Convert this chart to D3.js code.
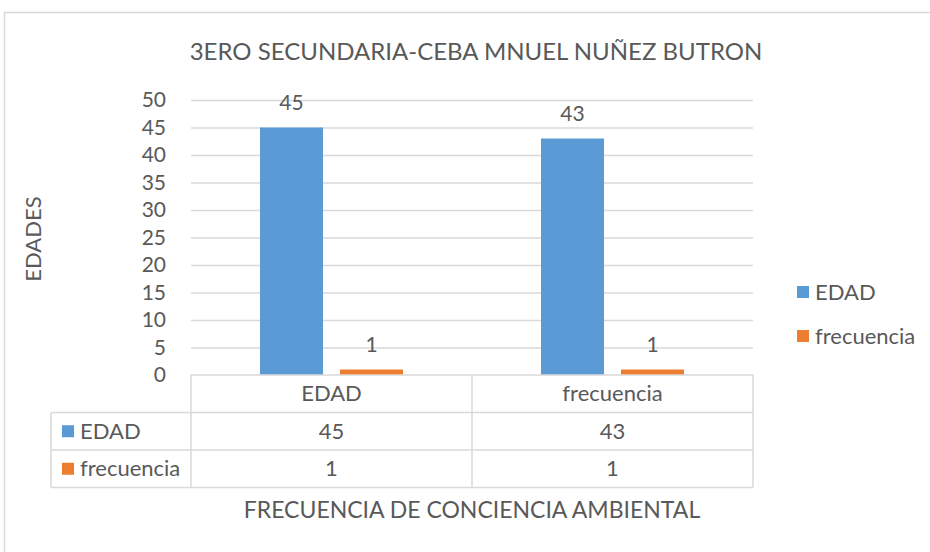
<!DOCTYPE html>
<meta charset="utf-8">
<script src="https://d3js.org/d3.v7.min.js"></script>
<style>
body { margin: 0; background: #fff; }
text { font-family: Lato, "Noto Sans", sans-serif; fill: #595959; }
.grid line { stroke: #d9d9d9; stroke-width: 1.5px; }
.grid path { display: none; }
.tbl line { stroke: #d9d9d9; stroke-width: 1.5px; }
</style>
<body>
<script>

// chart data
var categories = ["EDAD", "frecuencia"];
var seriesNames = ["EDAD", "frecuencia"];
var edadValues = [45, 43];
var frecuenciaValues = [1, 1];
var yTicks = [0, 5, 10, 15, 20, 25, 30, 35, 40, 45, 50];
var colors = ["#5b9bd5", "#ed7d31"];

var series = [edadValues, frecuenciaValues];

var width = 930,
    height = 552;

var plot = {left: 191, right: 753, top: 100, bottom: 375};
var fs = "22px";

var svg = d3.select("body").append("svg")
    .attr("width", width)
    .attr("height", height);

// outer chart border
svg.append("rect")
    .attr("x", 4.5).attr("y", 12.5)
    .attr("width", 940).attr("height", 560)
    .attr("fill", "none")
    .attr("stroke", "#d9d9d9")
    .attr("stroke-width", 1.5);

var y = d3.scaleLinear()
    .domain([0, 50])
    .range([plot.bottom, plot.top]);

var x0 = d3.scaleBand()
    .domain(categories)
    .range([plot.left, plot.right]);

var x1 = d3.scaleBand()
    .domain(seriesNames)
    .range([69, x0.bandwidth() - 69])
    .paddingInner(0.2125);

// gridlines
svg.append("g")
    .attr("class", "grid")
    .attr("transform", "translate(" + plot.left + ",0)")
    .call(d3.axisLeft(y).tickValues(yTicks.slice(1)).tickSize(-(plot.right - plot.left)).tickFormat(""));

// y tick labels
svg.append("g")
    .selectAll("text")
    .data(yTicks)
    .enter().append("text")
    .attr("x", 166)
    .attr("y", d => y(d))
    .attr("dy", "0.35em")
    .attr("text-anchor", "end")
    .style("font-size", "21px")
    .text(d => d);

// bars
var groups = svg.append("g")
    .selectAll("g")
    .data(categories)
    .enter().append("g")
    .attr("transform", d => "translate(" + x0(d) + ",0)");

groups.selectAll("rect")
    .data((c, i) => series.map((s, j) => ({name: seriesNames[j], value: s[i], k: j})))
    .enter().append("rect")
    .attr("x", d => x1(d.name))
    .attr("y", d => y(d.value))
    .attr("width", x1.bandwidth())
    .attr("height", d => y(0) - y(d.value))
    .attr("fill", d => colors[d.k]);

groups.selectAll("text")
    .data((c, i) => series.map((s, j) => ({name: seriesNames[j], value: s[i]})))
    .enter().append("text")
    .attr("x", d => x1(d.name) + x1.bandwidth() / 2)
    .attr("y", d => y(d.value) - 25)
    .attr("dy", "0.35em")
    .attr("text-anchor", "middle")
    .style("font-size", "21px")
    .text(d => d.value);

// data table
var rowH = 37.5;
var tableLeft = 51;
var tbl = svg.append("g").attr("class", "tbl");

// horizontal lines
[0, 1, 2, 3].forEach(function(r) {
  tbl.append("line")
    .attr("x1", r == 0 ? plot.left : tableLeft)
    .attr("x2", plot.right)
    .attr("y1", plot.bottom + r * rowH)
    .attr("y2", plot.bottom + r * rowH);
});
// vertical lines
tbl.append("line")
    .attr("x1", tableLeft).attr("x2", tableLeft)
    .attr("y1", plot.bottom + rowH).attr("y2", plot.bottom + 3 * rowH);
[plot.left, x0(categories[1]), plot.right].forEach(function(xv) {
  tbl.append("line")
    .attr("x1", xv).attr("x2", xv)
    .attr("y1", plot.bottom).attr("y2", plot.bottom + 3 * rowH);
});

// category header row
tbl.selectAll(".cat")
    .data(categories)
    .enter().append("text")
    .attr("x", d => x0(d) + x0.bandwidth() / 2)
    .attr("y", plot.bottom + rowH / 2)
    .attr("dy", "0.35em")
    .attr("text-anchor", "middle")
    .style("font-size", fs)
    .text(d => d);

// series rows
seriesNames.forEach(function(name, j) {
  var cy = plot.bottom + rowH * (j + 1) + rowH / 2;
  tbl.append("rect")
    .attr("x", 62).attr("y", cy - 6)
    .attr("width", 12).attr("height", 12)
    .attr("fill", colors[j]);
  tbl.append("text")
    .attr("x", 80).attr("y", cy)
    .attr("dy", "0.35em")
    .style("font-size", fs)
    .text(name);
  categories.forEach(function(c, i) {
    tbl.append("text")
      .attr("x", x0(c) + x0.bandwidth() / 2)
      .attr("y", cy)
      .attr("dy", "0.35em")
      .attr("text-anchor", "middle")
      .style("font-size", fs)
      .text(series[j][i]);
  });
});

// legend
var legend = svg.append("g")
    .selectAll("g")
    .data(seriesNames)
    .enter().append("g")
    .attr("transform", (d, i) => "translate(797," + (292 + i * 44) + ")");
legend.append("rect")
    .attr("x", 0).attr("y", -6)
    .attr("width", 12).attr("height", 12)
    .attr("fill", (d, i) => colors[i]);
legend.append("text")
    .attr("x", 18).attr("y", 0)
    .attr("dy", "0.35em")
    .style("font-size", fs)
    .text(d => d);

// titles
svg.append("text")
    .attr("x", 476).attr("y", 52)
    .attr("dy", "0.35em")
    .attr("text-anchor", "middle")
    .style("font-size", "24px")
    .text("3ERO SECUNDARIA-CEBA MNUEL NUÑEZ BUTRON");

svg.append("text")
    .attr("transform", "translate(33,239) rotate(-90)")
    .attr("dy", "0.35em")
    .attr("text-anchor", "middle")
    .style("font-size", "22px")
    .text("EDADES");

svg.append("text")
    .attr("x", 472).attr("y", 510)
    .attr("dy", "0.35em")
    .attr("text-anchor", "middle")
    .style("font-size", "23px")
    .text("FRECUENCIA DE CONCIENCIA AMBIENTAL");

</script>
</body>
